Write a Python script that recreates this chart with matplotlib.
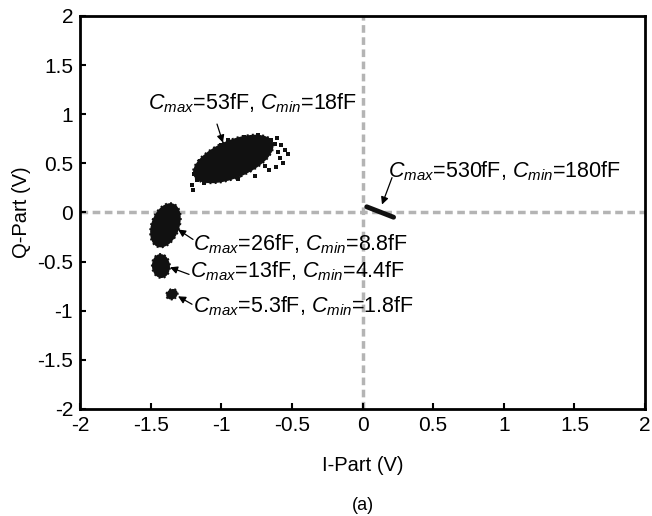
import matplotlib
matplotlib.use('agg')
from matplotlib import pyplot as plt
from matplotlib.patches import Ellipse
from matplotlib.transforms import ScaledTranslation

plt.rcParams['font.family'] = ['Liberation Sans', 'DejaVu Sans']
plt.rcParams['mathtext.fontset'] = 'custom'
plt.rcParams['mathtext.rm'] = 'Liberation Sans'
plt.rcParams['mathtext.it'] = 'Liberation Sans:italic'

# cluster cores: centre (V), semi-axes (px), tilt (deg)
core_i = [-0.915, -1.395, -1.427, -1.349]
core_q = [0.545, -0.13, -0.545, -0.832]
core_a = [43, 23, 12, 6]
core_b = [19, 14, 9, 5]
core_ang = [23, 70, 95, 30]

# stray points around the 53fF cloud
stray_i = [-1.207, -1.200, -1.175, -1.190, -0.605, -0.577, -0.549, -0.527, -0.585,
           -0.563, -0.612, -0.660, -0.760, -0.880, -0.840, -0.740, -1.000, -0.650,
           -0.620, -1.080, -1.150, -0.690, -0.595, -0.700, -1.120, -0.950]
stray_q = [0.284, 0.234, 0.330, 0.390, 0.761, 0.690, 0.640, 0.599, 0.558,
           0.508, 0.467, 0.430, 0.375, 0.345, 0.770, 0.790, 0.690, 0.740,
           0.700, 0.340, 0.520, 0.470, 0.620, 0.660, 0.300, 0.735]

# 530fF trace
trace_i = [0.03, 0.22]
trace_q = [0.058, -0.048]

labels = [r'$C_{max}$=53fF, $C_{min}$=18fF',
          r'$C_{max}$=530fF, $C_{min}$=180fF',
          r'$C_{max}$=26fF, $C_{min}$=8.8fF',
          r'$C_{max}$=13fF, $C_{min}$=4.4fF',
          r'$C_{max}$=5.3fF, $C_{min}$=1.8fF']
label_i = [-1.52, 0.181, -1.20, -1.22, -1.20]
label_q = [1.11, 0.416, -0.325, -0.60, -0.954]
arrow_tail_i = [-1.03, 0.209, -1.20, -1.228, -1.207]
arrow_tail_q = [0.90, 0.355, -0.274, -0.63, -0.934]
arrow_head_i = [-0.988, 0.138, -1.306, -1.363, -1.306]
arrow_head_q = [0.711, 0.081, -0.173, -0.558, -0.853]

ticks = [-2, -1.5, -1, -0.5, 0, 0.5, 1, 1.5, 2]
tick_labels = ['-2', '-1.5', '-1', '-0.5', '0', '0.5', '1', '1.5', '2']

fig = plt.figure(figsize=(6.52, 5.16), dpi=100)
ax = fig.add_axes([80 / 652, 1 - 409 / 516, 565 / 652, 393 / 516])

ax.axhline(0, color='#b4b4b4', lw=2.5, ls=(0, (2.2, 1.3)), zorder=1)
ax.axvline(0, color='#b4b4b4', lw=2.5, ls=(0, (2.2, 1.3)), zorder=1)

for x, y, a, b, ang in zip(core_i, core_q, core_a, core_b, core_ang):
    tr = fig.dpi_scale_trans + ScaledTranslation(x, y, ax.transData)
    ax.add_patch(Ellipse((0, 0), 2 * a / 100, 2 * b / 100, angle=ang,
                         transform=tr, facecolor='#111111',
                         edgecolor='#111111', lw=1.4, ls=':', zorder=3))

ax.scatter(stray_i, stray_q, s=6, marker='s', color='#111111', lw=0, zorder=3)
ax.plot(trace_i, trace_q, color='#111111', lw=3.5, solid_capstyle='round', zorder=3)

for txt, lx, ly, tx, ty, hx, hy in zip(labels, label_i, label_q, arrow_tail_i,
                                      arrow_tail_q, arrow_head_i, arrow_head_q):
    ax.text(lx, ly, txt, fontsize=15.5, ha='left', va='center', zorder=4)
    ax.annotate('', xy=(hx, hy), xytext=(tx, ty),
                arrowprops=dict(arrowstyle='-|>', color='black', lw=0.9,
                                mutation_scale=11, shrinkA=0, shrinkB=0))

ax.set_xlim(-2, 2)
ax.set_ylim(-2, 2)
ax.set_xticks(ticks)
ax.set_xticklabels(tick_labels)
ax.set_yticks(ticks)
ax.set_yticklabels(tick_labels)
ax.tick_params(direction='in', length=4, width=1.5, labelsize=15, pad=5)
for s in ax.spines.values():
    s.set_linewidth(2)

ax.set_xlabel('I-Part (V)', fontsize=14.5, labelpad=15)
ax.set_ylabel('Q-Part (V)', fontsize=14.5, labelpad=4)
fig.text(363 / 652, 1 - 505 / 516, '(a)', fontsize=13, ha='center', va='center')

fig.savefig('out.png', dpi=100)
